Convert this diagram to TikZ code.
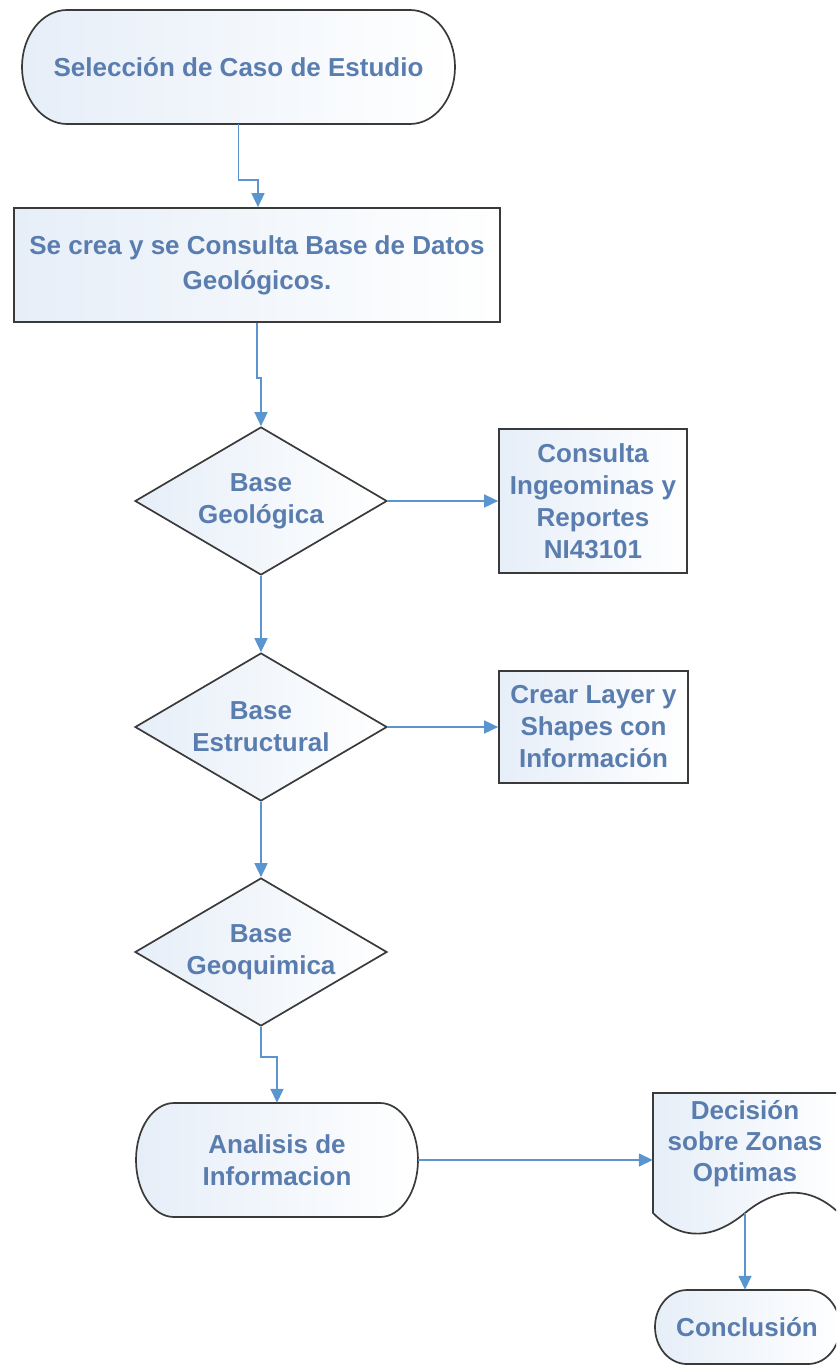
\documentclass[tikz,border=0pt]{standalone}
\usepackage{fontspec}
\setmainfont{Liberation Sans}
\usetikzlibrary{shapes.geometric,arrows.meta,calc}

\definecolor{txtblue}{HTML}{5A7DAF}
\definecolor{edgegray}{HTML}{3A3A3A}
\definecolor{linkblue}{HTML}{5B95D0}
\definecolor{tint}{HTML}{E6EEF8}

% terminator outline: x1 y1 x2 y2 end-radius-x end-radius-y
\newcommand\stadiumpath[6]{%
  \path[outline] (#1+#5,#2) -- (#3-#5,#2)
    arc[start angle=-90,end angle=90,x radius=#5,y radius=#6]
    -- (#1+#5,#4)
    arc[start angle=90,end angle=270,x radius=#5,y radius=#6] -- cycle;}

\begin{document}
\begin{tikzpicture}[x=1pt,y=-1pt,
  every node/.style={font=\fontsize{26}{32}\selectfont\bfseries,
    text=txtblue, align=center, inner sep=0pt},
  outline/.style={draw=edgegray, line width=1.7pt, left color=tint, right color=white},
  textonly/.style={rectangle, draw=none},
  procbox/.style={rectangle, outline},
  decision/.style={diamond, outline, aspect=1.7,
    minimum width=252pt, minimum height=148pt},
  link/.style={draw=linkblue, line width=1.6pt,
    -{Triangle[length=14pt,width=13pt]}}]

\path[use as bounding box] (0,0) rectangle (836,1365);
\clip (0,0) rectangle (836,1365);

% start terminator
\stadiumpath{22}{10}{455}{124}{45}{57}
\node[textonly, minimum width=433pt, minimum height=114pt] (start) at (238.5,67)
  {Selección de Caso de Estudio};

% database process
\node[procbox, minimum width=486pt, minimum height=114pt,
  font=\fontsize{26}{35}\selectfont\bfseries] (db) at (257,265)
  {Se crea y se Consulta Base de Datos\\Geológicos.};

% decisions
\node[decision] (geo) at (261,501) {Base\\Geológica};
\node[decision] (est) at (261,727) {Base\\Estructural};
\node[decision] (gq) at (261,952) {Base\\Geoquimica};

% side processes
\node[procbox, minimum width=188pt, minimum height=144pt] (ing) at (593,501)
  {Consulta\\Ingeominas y\\Reportes\\NI43101};
\node[procbox, minimum width=189pt, minimum height=112pt] (lay) at (593.5,727)
  {Crear Layer y\\Shapes con\\Información};

% analysis terminator
\stadiumpath{136}{1103}{418}{1217}{38}{57}
\node[textonly, minimum width=282pt, minimum height=114pt] (ana) at (277,1160)
  {Analisis de\\Informacion};

% document shape (runs past the right edge)
\path[outline] (653,1093) -- (842,1093) -- (842,1216)
  .. controls (810,1183) and (775,1188) .. (745,1213)
  .. controls (715,1238) and (683,1243) .. (653,1213) -- cycle;
\node[textonly, minimum width=184pt, minimum height=138pt,
  font=\fontsize{26}{31}\selectfont\bfseries] (dec) at (745,1144)
  {Decisión\\sobre Zonas\\Optimas};

% end terminator
\stadiumpath{655}{1290}{840}{1364}{32}{37}
\node[textonly, minimum width=184pt, minimum height=74pt] (fin) at (747,1327)
  {Conclusión};

% connectors
\coordinate (j1) at (258,180);
\coordinate (j2) at (261,378);
\coordinate (j3) at (277,1057);
\draw[link] (start.south) |- (j1) -- (j1 |- db.north);
\draw[link] (db.south) |- (j2) -- (geo.north);
\draw[link] (geo.east) -- (ing.west);
\draw[link] (geo.south) -- (est.north);
\draw[link] (est.east) -- (lay.west);
\draw[link] (est.south) -- (gq.north);
\draw[link] (gq.south) |- (j3) -- (ana.north);
\draw[link] (ana.east) -- (ana.east -| dec.west);
\draw[link] (dec.south) -- (dec.south |- fin.north);

\end{tikzpicture}
\end{document}
